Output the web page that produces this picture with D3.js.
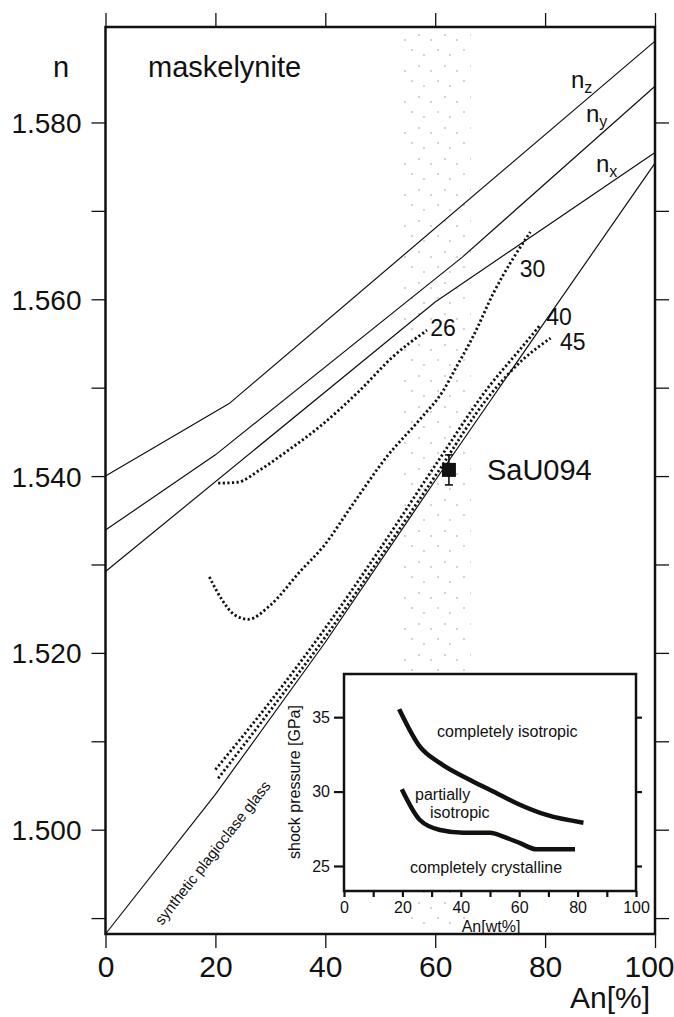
<!DOCTYPE html>
<meta charset="utf-8">
<style>
  body { margin: 0; background: #fff; }
  text { font-family: "Liberation Sans", Arial, sans-serif; fill: #111; }
  .frame { fill: none; stroke: #111; stroke-width: 2.5; }
  .axis path { display: none; }
  .axis line { stroke: #111; stroke-width: 1.3; }
  .nline { fill: none; stroke: #111; stroke-width: 1.2; }
  .dotted { fill: none; stroke: #111; stroke-width: 2.8; stroke-dasharray: 2.2,2.4; }
  .inset-curve { fill: none; stroke: #111; stroke-width: 4.5; stroke-linecap: butt; }
</style>
<body>
<script src="https://cdn.jsdelivr.net/npm/d3@7"></script>
<script>

// refractive index lines, [An %, n]
var nz = [[0, 1.5400], [22.5, 1.5482], [100, 1.5892]];
var ny = [[0, 1.5339], [20, 1.5424], [65, 1.5648], [100, 1.5841]];
var nx = [[0, 1.5292], [60, 1.5597], [100, 1.5766]];
var glass = [[0, 1.4882], [20, 1.5040], [40, 1.5212], [60, 1.5395], [80, 1.5575], [100, 1.5754]];

// maskelynite, shock pressure 26/30/40/45 GPa
var p26 = [[20.5, 1.5392], [24, 1.5393], [28.1, 1.5407], [33, 1.5428], [39, 1.5456], [46.3, 1.5497], [52.3, 1.5535], [58.5, 1.5565]];
var p30 = [[18.9, 1.5286], [21, 1.5262], [23.5, 1.5243], [26, 1.5238], [30, 1.5254], [35.4, 1.5292], [39.6, 1.5320], [45.1, 1.5369], [51.2, 1.5422], [57.2, 1.5464], [61.5, 1.5497], [63.9, 1.5524], [66.9, 1.5558], [70.6, 1.5607], [77.3, 1.5676]];
var p40 = [[20.0, 1.5068], [30, 1.5145], [40, 1.5228], [50, 1.5318], [60, 1.5412], [70, 1.5503], [75, 1.5540], [79, 1.5570]];
var p45 = [[20.5, 1.5058], [30, 1.5135], [40, 1.5218], [50, 1.5308], [60, 1.5400], [70, 1.5492], [76, 1.5532], [81, 1.5556]];

// SaU094 point and its An range (stippled band)
var sau = { an: 62.5, n: 1.5407, err: 0.0017 };
var sauRange = [53.5, 66.5];

// inset: shock pressure boundaries [An wt%, GPa]
var upperBound = [[18.9, 35.54], [26.0, 33.02], [32.9, 31.91], [43.2, 30.78], [52.3, 29.89], [59.1, 29.22], [69.4, 28.43], [82.0, 27.91]];
var lowerBound = [[19.8, 30.16], [26.0, 28.09], [32.9, 27.42], [40.9, 27.24], [50.0, 27.24], [54.6, 26.97], [60.3, 26.53], [66.0, 26.12], [79.1, 26.12]];

var yTicks = [1.49, 1.50, 1.51, 1.52, 1.53, 1.54, 1.55, 1.56, 1.57, 1.58];
var xTicks = [0, 20, 40, 60, 80, 100];
var insetYTicks = [25, 30, 35];
var insetXTicks = [0, 10, 20, 30, 40, 50, 60, 70, 80, 90, 100];

var W = 674, H = 1017;
var svg = d3.select("body").append("svg").attr("width", W).attr("height", H);
svg.append("rect").attr("width", W).attr("height", H).attr("fill", "#fff");

var x = d3.scaleLinear().domain([0, 100]).range([105.5, 655]);
var y = d3.scaleLinear().domain([1.4882, 1.5908]).range([934, 27]);

var line = d3.line().x(d => x(d[0])).y(d => y(d[1]));
var smooth = d3.line().x(d => x(d[0])).y(d => y(d[1])).curve(d3.curveMonotoneX);

// sparse stipple for the An range band
var pat = svg.append("defs").append("pattern").attr("id", "stip")
  .attr("patternUnits", "userSpaceOnUse").attr("width", 26).attr("height", 31);
[[3, 4], [15, 9], [22, 19], [8, 24]].forEach(function(p) {
  pat.append("circle").attr("cx", p[0]).attr("cy", p[1]).attr("r", 0.7).attr("fill", "#888");
});
svg.append("rect").attr("x", x(sauRange[0])).attr("y", y.range()[1])
  .attr("width", x(sauRange[1]) - x(sauRange[0])).attr("height", y.range()[0] - y.range()[1])
  .attr("fill", "url(#stip)");

// axes
svg.append("g").attr("class", "axis").attr("transform", "translate(" + x(0) + ",0)")
  .call(d3.axisLeft(y).tickValues(yTicks).tickSize(14).tickPadding(10)
    .tickFormat(d => Math.round(d * 1000) % 20 === 0 ? d3.format(".3f")(d) : ""))
  .selectAll("text").style("font-size", "28px").attr("dy", "0.36em");
svg.append("g").attr("class", "axis").attr("transform", "translate(" + x(100) + ",0)")
  .call(d3.axisRight(y).tickValues(yTicks).tickSize(14).tickFormat(""));
svg.append("g").attr("class", "axis").attr("transform", "translate(0," + y.range()[1] + ")")
  .call(d3.axisTop(x).tickValues(xTicks).tickSize(14).tickFormat(""));
svg.append("g").attr("class", "axis").attr("transform", "translate(0," + y.range()[0] + ")")
  .call(d3.axisBottom(x).tickValues(xTicks).tickSize(14).tickPadding(8))
  .selectAll("text").style("font-size", "30px")
  .attr("dx", d => d === 100 ? "-0.2em" : null);

// lines
[nz, ny, nx, glass].forEach(function(d) {
  svg.append("path").datum(d).attr("class", "nline").attr("d", line);
});
[p26, p30, p40, p45].forEach(function(d) {
  svg.append("path").datum(d).attr("class", "dotted").attr("d", smooth);
});

svg.append("rect").attr("class", "frame")
  .attr("x", x(0)).attr("y", y.range()[1])
  .attr("width", x(100) - x(0)).attr("height", y.range()[0] - y.range()[1]);

// SaU094
var sx = x(sau.an), sy = y(sau.n);
var eb = svg.append("g").attr("stroke", "#111").attr("stroke-width", 1.6);
eb.append("line").attr("x1", sx).attr("x2", sx).attr("y1", y(sau.n + sau.err)).attr("y2", y(sau.n - sau.err));
eb.append("line").attr("x1", sx - 4).attr("x2", sx + 4).attr("y1", y(sau.n + sau.err)).attr("y2", y(sau.n + sau.err));
eb.append("line").attr("x1", sx - 4).attr("x2", sx + 4).attr("y1", y(sau.n - sau.err)).attr("y2", y(sau.n - sau.err));
svg.append("rect").attr("x", sx - 7).attr("y", sy - 7).attr("width", 14).attr("height", 14).attr("fill", "#111");
svg.append("text").attr("x", sx + 38).attr("y", sy + 10).style("font-size", "29px").text("SaU094");

// text labels
svg.append("text").attr("x", 61).attr("y", 77).attr("text-anchor", "middle").style("font-size", "29px").text("n");
svg.append("text").attr("x", 148).attr("y", 77).style("font-size", "29px").text("maskelynite");

function nLabel(px, py, sub) {
  var t = svg.append("text").attr("x", px).attr("y", py).style("font-size", "24px");
  t.append("tspan").text("n");
  t.append("tspan").attr("dy", 5).style("font-size", "16px").text(sub);
}
nLabel(571, 88, "z");
nLabel(586, 122, "y");
nLabel(596, 172, "x");

var curveLabels = [["26", 59.1, 1.5559], ["30", 75.4, 1.5625], ["40", 80.2, 1.5571], ["45", 82.7, 1.5543]];
curveLabels.forEach(function(c) {
  svg.append("text").attr("x", x(c[1])).attr("y", y(c[2])).style("font-size", "23px").text(c[0]);
});

svg.append("text").attr("x", x(100) - 5).attr("y", 1008).attr("text-anchor", "end").style("font-size", "30px").text("An[%]");

svg.append("text").attr("transform", "translate(162,926) rotate(-52)").style("font-size", "15px").text("synthetic plagioclase glass");

// inset
var ix = d3.scaleLinear().domain([0, 100]).range([344, 636]);
var iy = d3.scaleLinear().domain([23.32, 37.9]).range([891, 674]);
var iline = d3.line().x(d => ix(d[0])).y(d => iy(d[1])).curve(d3.curveMonotoneX);

svg.append("rect").attr("x", 344).attr("y", 674).attr("width", 292).attr("height", 217).attr("fill", "#fff");

var ia = svg.append("g").attr("class", "axis inset");
ia.append("g").attr("transform", "translate(" + ix(0) + ",0)")
  .call(d3.axisLeft(iy).tickValues(insetYTicks).tickSize(10).tickPadding(4))
  .selectAll("text").style("font-size", "16px");
ia.append("g").attr("transform", "translate(" + ix(100) + ",0)")
  .call(d3.axisRight(iy).tickValues(insetYTicks).tickSize(6).tickFormat(""));
ia.append("g").attr("transform", "translate(0," + iy.range()[0] + ")")
  .call(d3.axisBottom(ix).tickValues(insetXTicks).tickSize(6).tickPadding(5)
    .tickFormat(d => d % 20 === 0 ? d : ""))
  .selectAll("text").style("font-size", "16px");
ia.selectAll("line").style("stroke-width", 2.2);

svg.append("path").datum(upperBound).attr("class", "inset-curve").attr("d", iline);
svg.append("path").datum(lowerBound).attr("class", "inset-curve").attr("d", iline);

svg.append("rect").attr("x", 344).attr("y", 674).attr("width", 292).attr("height", 217)
  .attr("fill", "none").attr("stroke", "#111").attr("stroke-width", 2.5);

svg.append("text").attr("x", 437).attr("y", 737).style("font-size", "16px").text("completely isotropic");
svg.append("text").attr("x", 415).attr("y", 800).style("font-size", "16px").text("partially");
svg.append("text").attr("x", 430).attr("y", 818).style("font-size", "16px").text("isotropic");
svg.append("text").attr("x", 410).attr("y", 873).style("font-size", "16px").text("completely crystalline");
svg.append("text").attr("x", 491).attr("y", 932).attr("text-anchor", "middle").style("font-size", "16px").text("An[wt%]");
svg.append("text").attr("transform", "translate(300,782) rotate(-90)").attr("text-anchor", "middle")
  .style("font-size", "16px").text("shock pressure [GPa]");

</script>
</body>
